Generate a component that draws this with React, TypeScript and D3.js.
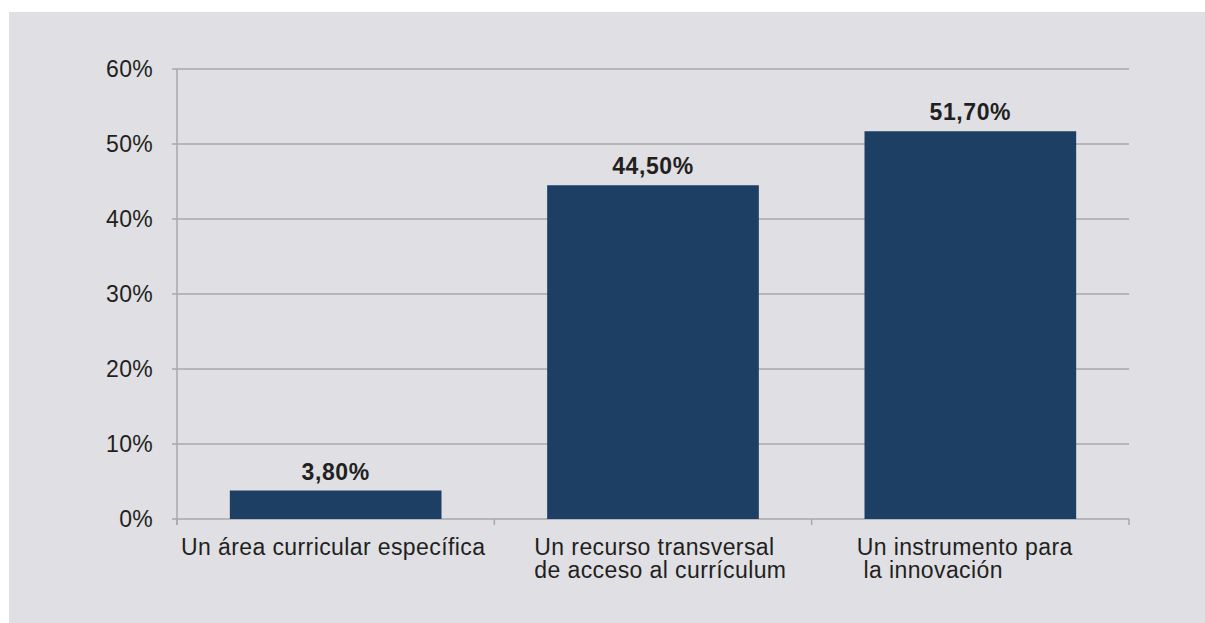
import React from "react";
import * as d3 from "d3";

const categories: string[][] = [
  ["Un área curricular específica"],
  ["Un recurso transversal", "de acceso al currículum"],
  ["Un instrumento para", " la innovación"],
];
const values: number[] = [3.8, 44.5, 51.7];
const valueLabels: string[] = ["3,80%", "44,50%", "51,70%"];
const yTicks: number[] = [0, 10, 20, 30, 40, 50, 60];

const W = 1205;
const H = 623;
const left = 177;
const right = 1129;
const top = 69;
const bottom = 519;
const font = "'Liberation Sans', Arial, Helvetica, sans-serif";
const textColor = "#231f20";
const gridColor = "#a9a9ad";

export default function App() {
  const x = d3
    .scaleBand<number>()
    .domain(d3.range(categories.length))
    .range([left, right])
    .paddingInner(0.333)
    .paddingOuter(0.1665);
  const y = d3.scaleLinear().domain([0, 60]).range([bottom, top]);
  const step = (right - left) / categories.length;
  const labelX = (i: number) => left + i * step + (i === 0 ? 4 : i === 1 ? 40 : 45);

  return (
    <svg
      width={W}
      height={H}
      style={{ position: "absolute", left: 0, top: 0, display: "block" }}
    >
      <rect x={0} y={0} width={W} height={H} fill="#ffffff" />
      <rect x={9} y={12} width={W - 9} height={H - 12} fill="#dfdfe4" />
      {yTicks.map((t) => (
        <g key={t}>
          <line
            x1={left - 5}
            x2={right}
            y1={y(t)}
            y2={y(t)}
            stroke={gridColor}
            strokeWidth={1.5}
          />
          <text
            x={153}
            y={y(t)}
            dy="0.36em"
            textAnchor="end"
            fontFamily={font}
            fontSize={23}
            letterSpacing={0.3}
            fill={textColor}
          >
            {t}%
          </text>
        </g>
      ))}
      <line
        x1={left}
        x2={left}
        y1={top}
        y2={bottom + 6}
        stroke={gridColor}
        strokeWidth={1.5}
      />
      {d3.range(categories.length + 1).map((i) => (
        <line
          key={i}
          x1={left + i * step}
          x2={left + i * step}
          y1={bottom}
          y2={bottom + 6}
          stroke={gridColor}
          strokeWidth={1.5}
        />
      ))}
      {values.map((v, i) => (
        <g key={i}>
          <rect
            x={x(i)}
            y={y(v)}
            width={x.bandwidth()}
            height={bottom - y(v)}
            fill="#1d3f63"
          />
          <text
            x={(x(i) as number) + x.bandwidth() / 2}
            y={y(v) - 11}
            textAnchor="middle"
            fontFamily={font}
            fontSize={23}
            letterSpacing={0.6}
            fontWeight="bold"
            fill={textColor}
          >
            {valueLabels[i]}
          </text>
        </g>
      ))}
      {categories.map((lines, i) => (
        <text
          key={i}
          x={labelX(i)}
          y={555}
          fontFamily={font}
          fontSize={23}
          letterSpacing={0.4}
          fill={textColor}
          style={{ whiteSpace: "pre" }}
        >
          {lines.map((l, j) => (
            <tspan key={j} x={labelX(i)} dy={j === 0 ? 0 : 23}>
              {l}
            </tspan>
          ))}
        </text>
      ))}
    </svg>
  );
}
